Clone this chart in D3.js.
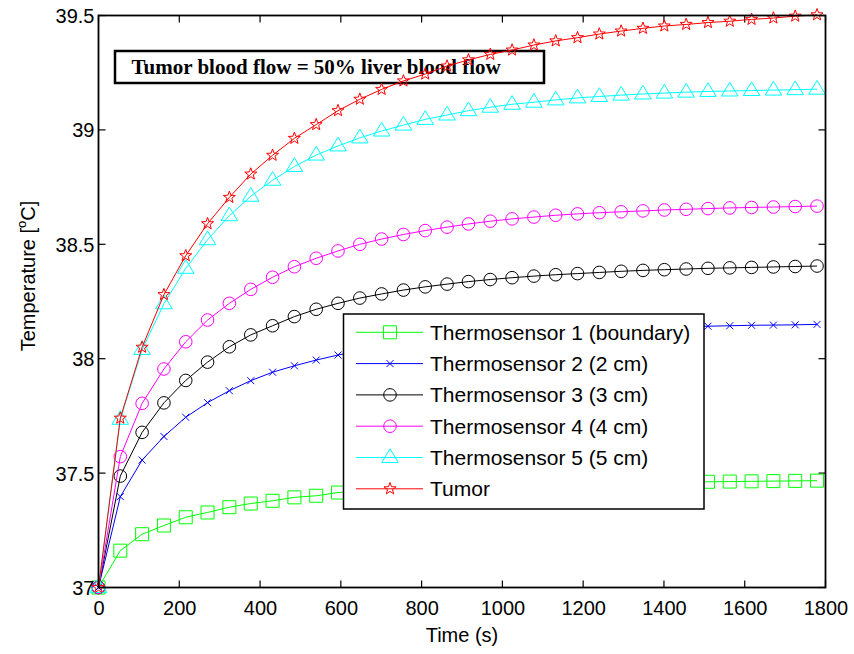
<!DOCTYPE html>
<html><head><meta charset="utf-8">
<script src="https://cdn.jsdelivr.net/npm/d3@7"></script>
<style>body{margin:0;background:#fff}svg{display:block}</style>
</head><body>
<svg id="c" width="854" height="654"></svg>
<script>
const time = [0,54,108,162,216,270,324,377,431,485,539,593,647,701,755,809,863,916,970,1024,1078,1132,1186,1240,1294,1348,1401,1455,1509,1563,1617,1671,1725,1779];
const sensor1 = [37.0,37.161,37.233,37.271,37.307,37.328,37.351,37.367,37.379,37.394,37.401,37.415,37.422,37.427,37.432,37.436,37.440,37.443,37.446,37.448,37.450,37.452,37.454,37.456,37.458,37.459,37.460,37.461,37.462,37.463,37.464,37.465,37.466,37.467];
const sensor2 = [37.0,37.397,37.557,37.660,37.744,37.808,37.860,37.904,37.941,37.969,37.994,38.016,38.035,38.050,38.064,38.076,38.086,38.095,38.102,38.109,38.115,38.120,38.124,38.128,38.132,38.135,38.138,38.140,38.142,38.144,38.146,38.147,38.148,38.150];
const sensor3 = [37.0,37.487,37.678,37.807,37.905,37.985,38.052,38.104,38.144,38.184,38.216,38.242,38.265,38.283,38.300,38.314,38.326,38.337,38.346,38.354,38.361,38.367,38.372,38.377,38.382,38.386,38.389,38.392,38.395,38.397,38.399,38.401,38.403,38.405];
const sensor4 = [37.0,37.572,37.805,37.955,38.074,38.169,38.242,38.303,38.356,38.402,38.439,38.471,38.500,38.523,38.543,38.560,38.575,38.589,38.601,38.611,38.619,38.627,38.633,38.638,38.642,38.646,38.650,38.653,38.656,38.659,38.661,38.663,38.665,38.667];
const sensor5 = [37.0,37.735,38.04,38.24,38.395,38.52,38.625,38.71,38.78,38.84,38.89,38.93,38.965,38.995,39.021,39.046,39.065,39.084,39.099,39.112,39.121,39.131,39.140,39.146,39.152,39.157,39.161,39.165,39.168,39.170,39.172,39.174,39.176,39.178];
const tumor = [37.0,37.74,38.05,38.28,38.45,38.59,38.705,38.807,38.889,38.963,39.023,39.084,39.134,39.177,39.214,39.244,39.279,39.306,39.330,39.349,39.371,39.389,39.403,39.419,39.432,39.444,39.454,39.461,39.469,39.475,39.483,39.489,39.497,39.503];
const seriesNames = ["Thermosensor 1 (boundary)","Thermosensor 2 (2 cm)","Thermosensor 3 (3 cm)","Thermosensor 4 (4 cm)","Thermosensor 5 (5 cm)","Tumor"];
const seriesColors = ["#00ff00","#0000ff","#000000","#ff00ff","#00ffff","#ff0000"];
const seriesMarkers = ["square","x","circle","circle","triangle","star"];
const xTicks = [0,200,400,600,800,1000,1200,1400,1600,1800];
const yTicks = [37,37.5,38,38.5,39,39.5];
const annotation = "Tumor blood flow = 50% liver blood flow";

const allSeries = [sensor1,sensor2,sensor3,sensor4,sensor5,tumor];
const svg = d3.select("#c");
const L=98.5,R=825.5,T=15.5,B=587.5;
const x = d3.scaleLinear().domain([0,1800]).range([L,R]);
const y = d3.scaleLinear().domain([37,39.5]).range([B,T]);
const font = "'Liberation Sans', Arial, sans-serif";

function markerPath(type){
  if(type==="square") return "M-6.5,-6.5H6.5V6.5H-6.5Z";
  if(type==="circle"){const p=d3.path();p.arc(0,0,6.3,0,2*Math.PI);return p.toString();}
  if(type==="x") return "M-3.5,-3.5L3.5,3.5M-3.5,3.5L3.5,-3.5";
  if(type==="triangle") return "M0,-8.7L8.3,5L-8.3,5Z";
  if(type==="star"){
    let s="";const ro=6.3,ri=2.6;
    for(let i=0;i<10;i++){const r=i%2?ri:ro;const a=-Math.PI/2+i*Math.PI/5;s+=(i?"L":"M")+(r*Math.cos(a)).toFixed(2)+","+(r*Math.sin(a)).toFixed(2);}
    return s+"Z";
  }
}

// axes background
svg.append("rect").attr("x",L).attr("y",T).attr("width",R-L).attr("height",B-T).attr("fill","#fff");

// annotation box (under the data)
svg.append("rect").attr("x",115).attr("y",51).attr("width",429).attr("height",32)
  .attr("fill","#fff").attr("stroke","#000").attr("stroke-width",2.5);
svg.append("text").attr("x",131.5).attr("y",73.5).attr("font-size",21).attr("font-weight","bold")
  .attr("font-family","'Liberation Serif','Times New Roman',serif").text(annotation);

// ticks (inward, all four sides)
const tk=svg.append("g").attr("stroke","#000").attr("stroke-width",1.2);
xTicks.forEach(v=>{
  tk.append("line").attr("x1",x(v)).attr("x2",x(v)).attr("y1",B).attr("y2",B-7);
  tk.append("line").attr("x1",x(v)).attr("x2",x(v)).attr("y1",T).attr("y2",T+7);
});
yTicks.forEach(v=>{
  tk.append("line").attr("x1",L).attr("x2",L+7).attr("y1",y(v)).attr("y2",y(v));
  tk.append("line").attr("x1",R).attr("x2",R-7).attr("y1",y(v)).attr("y2",y(v));
});

// series
const line = d3.line().x((d,i)=>x(time[i])).y(d=>y(d));
allSeries.forEach((s,k)=>{
  const g=svg.append("g");
  g.append("path").attr("d",line(s)).attr("fill","none").attr("stroke",seriesColors[k]).attr("stroke-width",1);
  const mp=markerPath(seriesMarkers[k]);
  g.selectAll("path.m").data(s).enter().append("path").attr("class","m")
    .attr("d",mp).attr("transform",(d,i)=>`translate(${x(time[i])},${y(d)})`)
    .attr("fill","none").attr("stroke",seriesColors[k]).attr("stroke-width",1);
});

// axis frame
svg.append("rect").attr("x",L).attr("y",T).attr("width",R-L).attr("height",B-T)
  .attr("fill","none").attr("stroke","#000").attr("stroke-width",1.8);

// tick labels
const xt = d3.axisBottom(x).tickValues(xTicks).tickSize(0).tickPadding(0).tickFormat(d3.format("d"));
const xg = svg.append("g").attr("transform",`translate(0,${B})`).call(xt);
xg.select(".domain").remove();
xg.selectAll("text").attr("dy",null).attr("y",27).attr("font-size",20).attr("font-family",font).attr("fill","#000");
const yt = d3.axisLeft(y).tickValues(yTicks).tickSize(0).tickPadding(0).tickFormat(d=>d3.format("")(d));
const yg = svg.append("g").attr("transform",`translate(${L-4},0)`).call(yt);
yg.select(".domain").remove();
yg.selectAll("text").attr("dy","0.35em").attr("x",0).attr("font-size",20).attr("font-family",font).attr("fill","#000");

// axis labels
svg.append("text").attr("x",(L+R)/2).attr("y",642).attr("text-anchor","middle")
  .attr("font-size",20).attr("font-family",font).text("Time (s)");
const yl = svg.append("text").attr("transform","translate(35,276) rotate(-90)").attr("text-anchor","middle")
  .attr("font-size",20).attr("font-family",font);
yl.append("tspan").text("Temperature [");
yl.append("tspan").attr("font-size",13).attr("dy",-9).text("o");
yl.append("tspan").attr("dy",9).text("C]");

// legend
const lg=svg.append("g");
lg.append("rect").attr("x",343.5).attr("y",314).attr("width",360.5).attr("height",195)
  .attr("fill","#fff").attr("stroke","#000").attr("stroke-width",1.5);
seriesNames.forEach((n,k)=>{
  const cy=332.3+k*31.3;
  lg.append("line").attr("x1",356).attr("x2",423).attr("y1",cy).attr("y2",cy).attr("stroke",seriesColors[k]).attr("stroke-width",1);
  lg.append("path").attr("d",markerPath(seriesMarkers[k])).attr("transform",`translate(390,${cy})`)
    .attr("fill","none").attr("stroke",seriesColors[k]).attr("stroke-width",1);
  lg.append("text").attr("x",430).attr("y",cy).attr("dy","0.36em").attr("font-size",21)
    .attr("font-family",font).text(n);
});
</script>
</body></html>
